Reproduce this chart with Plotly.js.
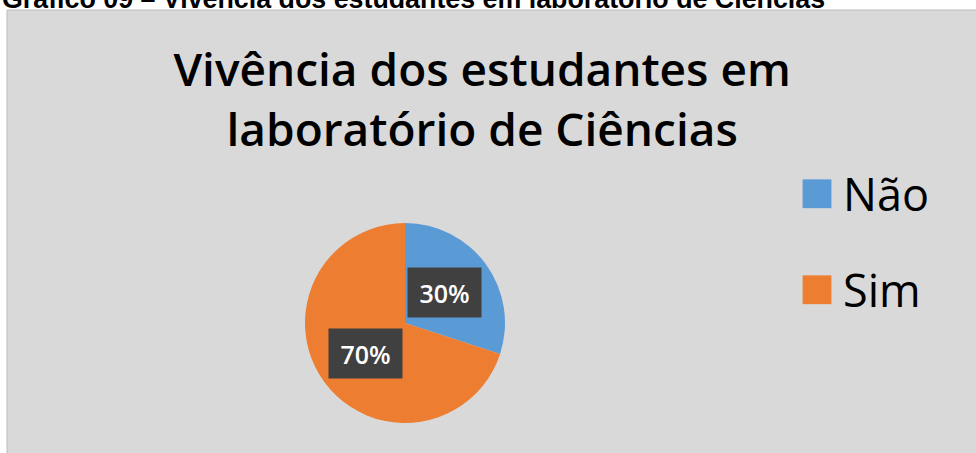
<!DOCTYPE html>
<html>
<head>
<meta charset="utf-8">
<script src="https://cdn.plot.ly/plotly-3.0.1.min.js"></script>
<style>
  html, body { margin: 0; padding: 0; background: #ffffff; }
  #chart { width: 976px; height: 453px; }
</style>
</head>
<body>
<div id="chart"></div>
<script>
// ---- data ----
const labels = ['Não', 'Sim'];
const values = [30, 70];
const sliceColors = ['#5b9bd5', '#ed7d31'];
const chartTitle = 'Vivência dos estudantes em<br>laboratório de Ciências';
const caption = 'Gráfico 09 – Vivência dos estudantes em laboratório de Ciências';

// ---- layout helpers ----
const W = 976, H = 453;
const domainX = [305 / W, 505 / W];
const domainY = [30 / H, 230 / H];
const cx = (domainX[0] + domainX[1]) / 2;
const cy = (domainY[0] + domainY[1]) / 2;
const rPx = Math.min((domainX[1] - domainX[0]) * W, (domainY[1] - domainY[0]) * H) / 2;
const total = values.reduce((a, b) => a + b, 0);

let cum = 0;
const labelAnnots = values.map(v => {
  const mid = (cum + v / 2) / total * 2 * Math.PI;
  cum += v;
  return {
    xref: 'paper', yref: 'paper',
    x: cx + 0.49 * rPx * Math.sin(mid) / W,
    y: cy + 0.52 * rPx * Math.cos(mid) / H,
    text: Math.round(v / total * 100) + '%',
    showarrow: false,
    xanchor: 'center', yanchor: 'middle',
    bgcolor: '#404040',
    width: 71, height: 47,
    font: { family: 'Open Sans', size: 25, weight: 600, color: '#ffffff' }
  };
});

const trace = {
  type: 'pie',
  labels: labels,
  values: values,
  sort: false,
  direction: 'clockwise',
  rotation: 0,
  textinfo: 'none',
  hoverinfo: 'label+percent',
  marker: { colors: sliceColors, line: { width: 0 } },
  domain: { x: domainX, y: domainY }
};

const layout = {
  width: W, height: H,
  margin: { l: 0, r: 0, t: 0, b: 0 },
  paper_bgcolor: '#ffffff',
  title: {
    text: chartTitle,
    font: { family: 'Open Sans', size: 46, weight: 600, color: '#000000' },
    xref: 'container', yref: 'container',
    x: 0.494, xanchor: 'center',
    y: 1 - 86 / H, yanchor: 'top'
  },
  showlegend: true,
  legend: {
    x: 803 / W, xanchor: 'left',
    y: 1 - 158 / H, yanchor: 'top',
    bgcolor: 'rgba(0,0,0,0)',
    font: { family: 'Open Sans', size: 45, color: '#000000' },
    traceorder: 'normal'
  },
  shapes: [{
    type: 'rect', xref: 'paper', yref: 'paper', layer: 'below',
    x0: 7 / W, x1: 1.01, y0: -0.01, y1: 1 - 10 / H,
    fillcolor: '#d9d9d9',
    line: { color: '#bdbdbd', width: 1 }
  }],
  annotations: [{
    xref: 'paper', yref: 'paper',
    x: 0, y: 1 - 16 / H, xanchor: 'left', yanchor: 'bottom',
    text: '<b>' + caption + '</b>',
    showarrow: false,
    font: { family: 'Liberation Sans, Arial, sans-serif', size: 26.8, color: '#000000' }
  }].concat(labelAnnots)
};

Plotly.newPlot('chart', [trace], layout, { displayModeBar: false, staticPlot: true }).then(gd => {
  const items = gd.querySelectorAll('.legend .traces');
  let y0 = null;
  items.forEach((t, i) => {
    const m = /translate\(\s*([-\d.e]+)[ ,]+([-\d.e]+)\s*\)/.exec(t.getAttribute('transform') || '');
    if (!m) return;
    const x = +m[1], y = +m[2];
    if (y0 === null) y0 = y;
    t.setAttribute('transform', 'translate(' + x + ',' + (y0 + i * 96) + ')');
  });
  gd.querySelectorAll('.legend path.legendpie').forEach(p => {
    p.setAttribute('transform', 'translate(14,0) scale(2.4)');
  });
  const sb = gd.querySelector('.legend .scrollbox');
  if (sb) sb.removeAttribute('clip-path');
});
</script>
</body>
</html>
